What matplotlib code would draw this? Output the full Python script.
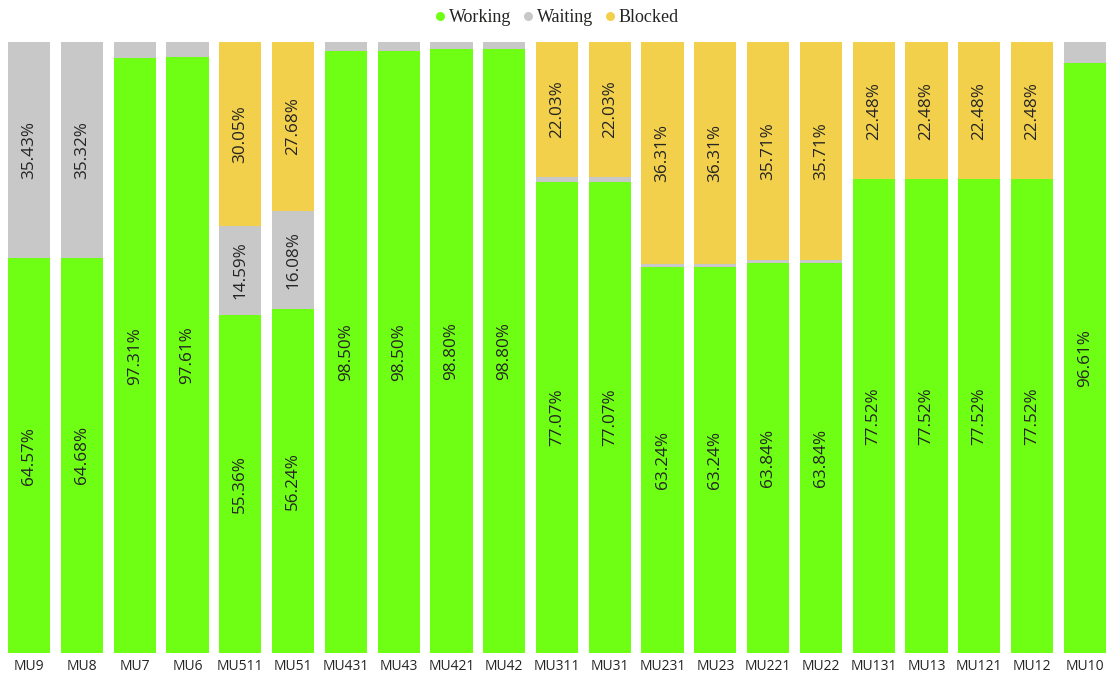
import matplotlib
matplotlib.use("Agg")
import matplotlib.pyplot as plt
from matplotlib.lines import Line2D
import numpy as np

categories = ["MU9", "MU8", "MU7", "MU6", "MU511", "MU51", "MU431", "MU43", "MU421", "MU42",
              "MU311", "MU31", "MU231", "MU23", "MU221", "MU22", "MU131", "MU13", "MU121", "MU12", "MU10"]
working = [64.57, 64.68, 97.31, 97.61, 55.36, 56.24, 98.50, 98.50, 98.80, 98.80,
           77.07, 77.07, 63.24, 63.24, 63.84, 63.84, 77.52, 77.52, 77.52, 77.52, 96.61]
waiting = [35.43, 35.32, 2.69, 2.39, 14.59, 16.08, 1.50, 1.50, 1.20, 1.20,
           0.90, 0.90, 0.45, 0.45, 0.45, 0.45, 0.00, 0.00, 0.00, 0.00, 3.39]
blocked = [0.00, 0.00, 0.00, 0.00, 30.05, 27.68, 0.00, 0.00, 0.00, 0.00,
           22.03, 22.03, 36.31, 36.31, 35.71, 35.71, 22.48, 22.48, 22.48, 22.48, 0.00]

series = [("Working", working, "#6EFF14"), ("Waiting", waiting, "#C8C8C8"), ("Blocked", blocked, "#F2D04B")]

fig = plt.figure(figsize=(11.09, 6.77), dpi=100)
ax = fig.add_axes([8/1109, 24/677, 1098/1109, 611/677])
x = np.arange(len(categories))
bottom = np.zeros(len(categories))
for name, vals, col in series:
    vals = np.array(vals)
    ax.bar(x, vals, width=0.8, bottom=bottom, color=col, linewidth=0)
    for xi, v, b in zip(x, vals, bottom):
        if v >= 5:
            ax.text(xi, b + v / 2, f"{v:.2f}%", rotation=90, ha="center", va="center",
                    fontsize=12.3, color="#252423", family="Open Sans")
    bottom += vals

ax.set_xlim(-0.4, len(categories) - 0.6)
ax.set_ylim(0, 100)
ax.set_xticks(x)
ax.set_xticklabels(categories, fontsize=10, color="#252423", family="Open Sans")
ax.tick_params(axis="x", length=0, pad=4)
ax.set_yticks([])
for s in ax.spines.values():
    s.set_visible(False)

handles = [Line2D([0], [0], marker="o", color="w", markerfacecolor=c, markersize=7.5, linewidth=0, label=n)
           for n, _, c in series]
fig.legend(handles=handles, loc="center", bbox_to_anchor=(555/1109, 1 - 17.5/677), ncol=3, frameon=False,
           prop={"family": "Liberation Serif", "size": 13}, handletextpad=0.0, columnspacing=0.4,
           handlelength=1.0, labelcolor="#252423")

fig.savefig("out.png", dpi=100)
